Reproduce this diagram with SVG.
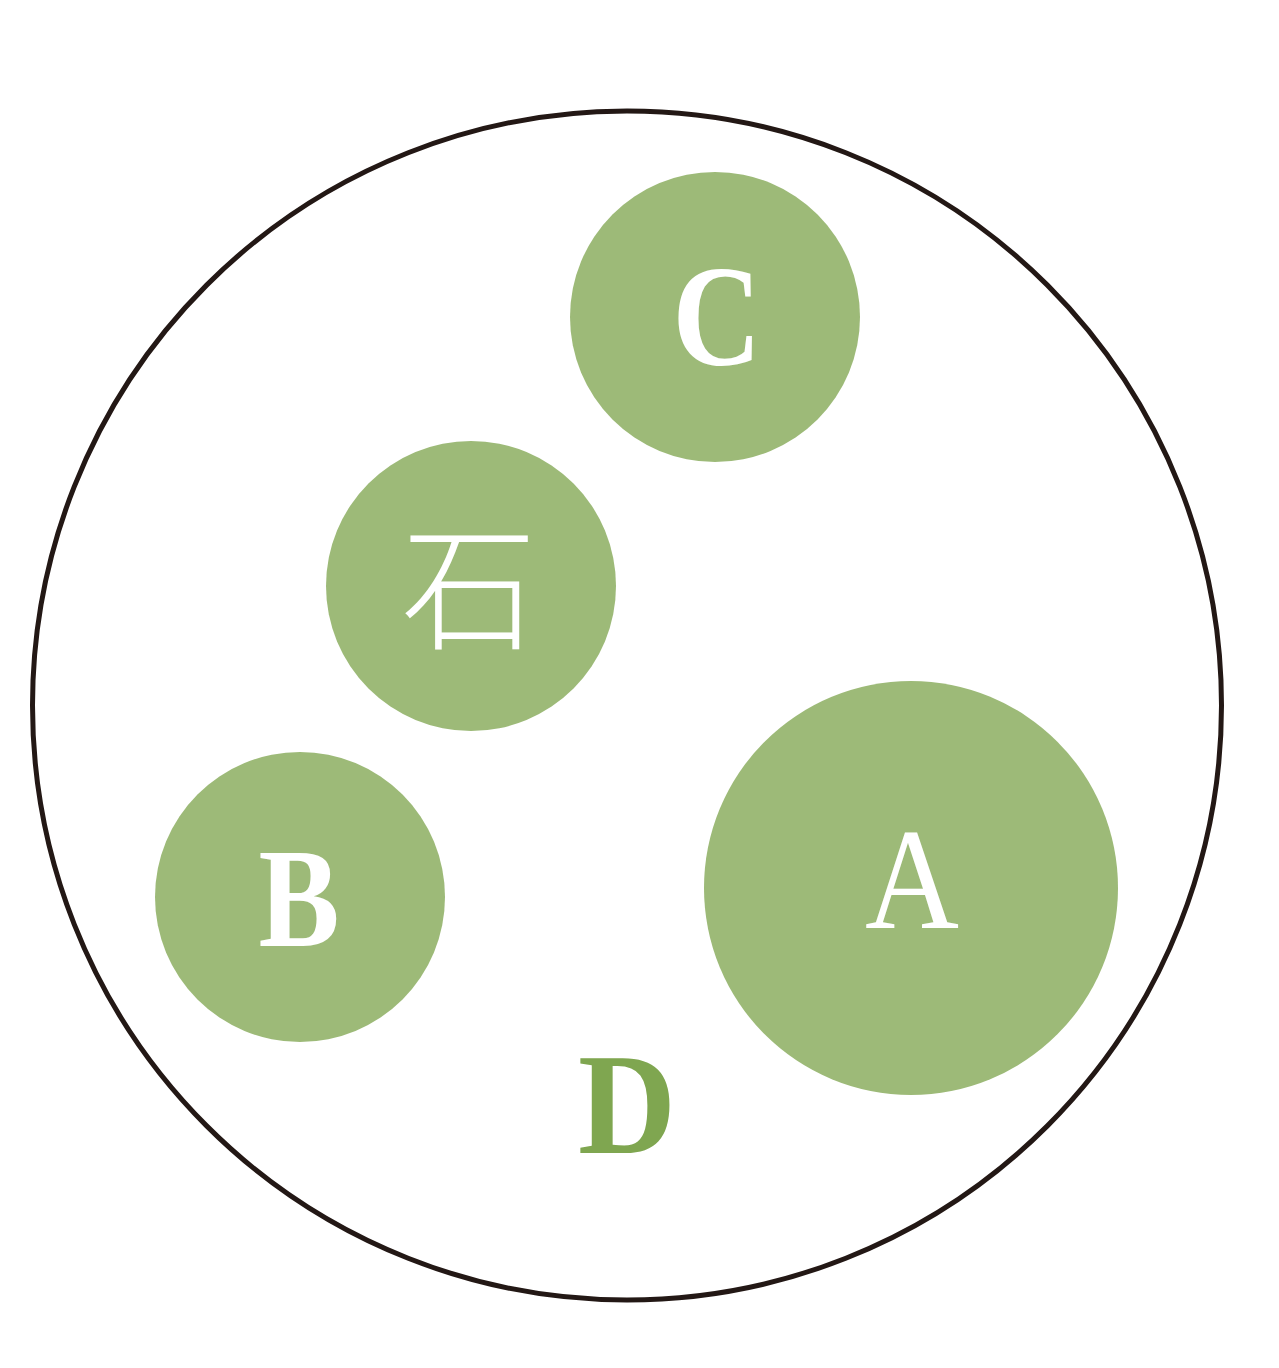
<svg xmlns="http://www.w3.org/2000/svg" width="1279" height="1368" viewBox="0 0 1279 1368">
<style>
.node{fill:#9dba78}
.lbl{font-family:"Liberation Serif","Times New Roman",serif;font-weight:bold;font-size:143px;fill:#ffffff;text-anchor:middle}
.cjk{font-family:"Noto Sans CJK SC","Noto Sans CJK JP",sans-serif;font-weight:300;font-size:136px;fill:#ffffff;text-anchor:middle}
</style>
<rect width="1279" height="1368" fill="#ffffff"/>
<g id="outer"><circle cx="627" cy="705.5" r="594.5" fill="none" stroke="#231815" stroke-width="5"/></g>
<g id="connectors"></g>
<g id="node-C"><circle class="node" cx="715" cy="317" r="145"/><text class="lbl" transform="translate(717 0) scale(0.86 1)" x="0" y="365">C</text></g>
<g id="node-stone"><circle class="node" cx="471" cy="586" r="145"/><text class="cjk" x="469" y="639">石</text></g>
<g id="node-B"><circle class="node" cx="300" cy="897" r="145"/><text class="lbl" transform="translate(299 0) scale(0.85 1)" x="0" y="946">B</text></g>
<g id="node-A"><circle class="node" cx="911" cy="888" r="207"/><text class="lbl" transform="translate(912 0) scale(0.91 1)" x="0" y="928" font-weight="normal" style="font-weight:normal">A</text></g>
<g id="node-D"><text class="lbl" transform="translate(627 0) scale(0.95 1)" x="0" y="1153" style="fill:#7fa650">D</text></g>
</svg>
